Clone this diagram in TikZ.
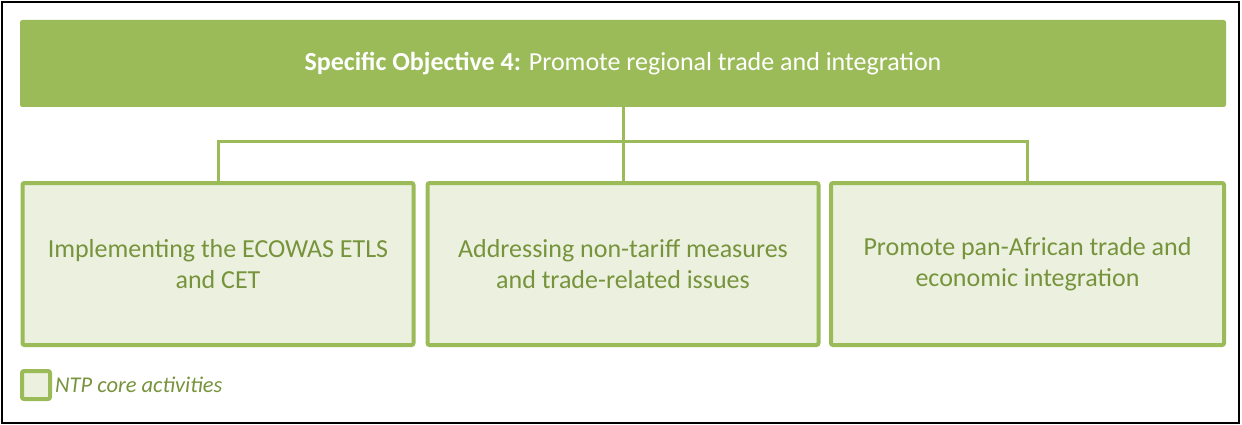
\documentclass[tikz,border=0pt]{standalone}
\usepackage{fontspec}
\setmainfont{Carlito}
\definecolor{olive}{HTML}{9BBB59}
\definecolor{palegreen}{HTML}{EBF1DE}
\definecolor{textgreen}{HTML}{77933C}
\begin{document}
\begin{tikzpicture}[x=1pt,y=-1pt,
  topbar/.style={fill=olive,draw=olive,line width=1pt,rounded corners=2pt,inner sep=0pt},
  actbox/.style={fill=palegreen,draw=olive,line width=4pt,rounded corners=2pt,inner sep=0pt,
    text=textgreen,align=center,font=\fontsize{26}{31.5}\selectfont},
  link/.style={draw=olive,line width=3pt},
  legbox/.style={fill=palegreen,draw=olive,line width=4pt,rounded corners=2pt,inner sep=0pt,minimum size=28pt}]
\useasboundingbox (0,0) rectangle (1242,425);
\draw[line width=2.5pt] (2,2) rectangle (1239,423);
\node[topbar,minimum width=1205pt,minimum height=86pt,text=white,font=\fontsize{26}{30}\selectfont] (obj) at (623,63.5) {\textbf{Specific Objective 4:} Promote regional trade and integration};
\node[actbox,minimum width=391pt,minimum height=162pt] (a1) at (218,264) {Implementing the ECOWAS ETLS\\and CET};
\node[actbox,minimum width=391pt,minimum height=162pt] (a2) at (623,264) {Addressing non-tariff measures\\and trade-related issues};
\node[actbox,minimum width=393pt,minimum height=162pt] (a3) at (1027.5,264) {Promote pan-African trade and\\economic integration};
\coordinate (hub) at (622,142);
\draw[link] (obj.south) -- (obj.south |- hub);
\draw[link] (a1.north) |- (hub) -| (a3.north);
\draw[link] (a2.north) -- (a2.north |- hub);
\node[legbox] (leg) at (36,385) {};
\node[anchor=west,text=textgreen,font=\fontsize{22.5}{26}\selectfont\itshape,inner sep=0pt] (legtext) at (55,385) {NTP core activities};
\end{tikzpicture}
\end{document}
